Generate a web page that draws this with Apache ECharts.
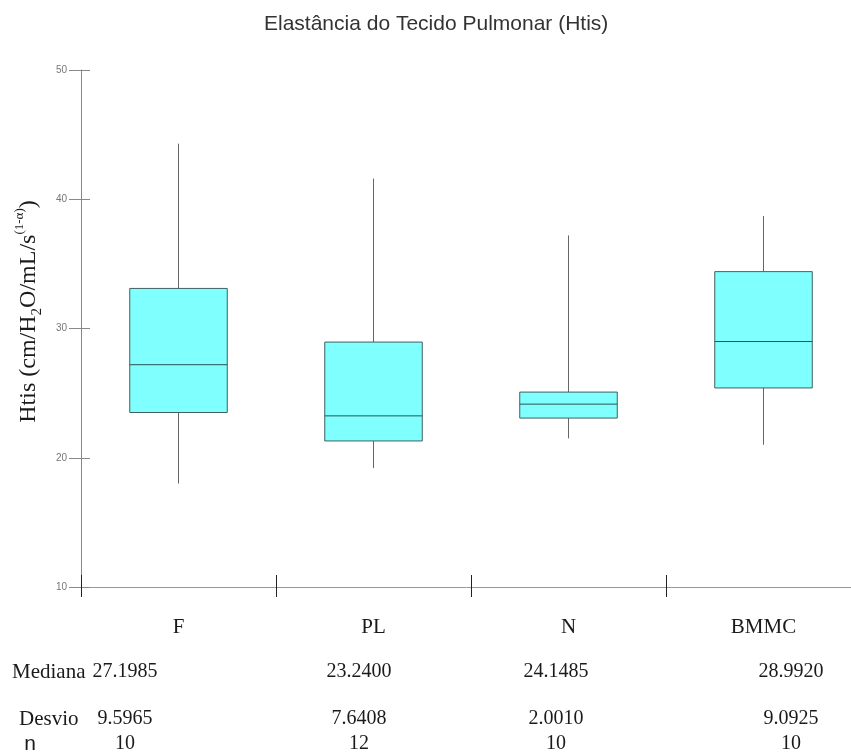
<!DOCTYPE html>
<html>
<head>
<meta charset="utf-8">
<script src="https://cdn.jsdelivr.net/npm/echarts@6/dist/echarts.min.js"></script>
<style>
  html, body { margin: 0; padding: 0; background: #fff; }
  #chart { width: 851px; height: 756px; }
</style>
</head>
<body>
<div id="chart"></div>
<script>
// categorias e valores
var categories = ['F', 'PL', 'N', 'BMMC'];
var mins    = [18.0, 19.2, 21.5, 21.0];
var q1s     = [23.5, 21.3, 23.07, 25.4];
var medians = [27.1985, 23.24, 24.1485, 28.992];
var q3s     = [33.1, 28.95, 25.08, 34.4];
var maxs    = [44.3, 41.6, 37.2, 38.7];
var yTicks  = [10, 20, 30, 40, 50];

// tabela abaixo do gráfico
var medianaLabels = ['27.1985', '23.2400', '24.1485', '28.9920'];
var desvioLabels  = ['9.5965', '7.6408', '2.0010', '9.0925'];
var nLabels       = ['10', '12', '10', '10'];

var chart = echarts.init(document.getElementById('chart'));

var boxData = categories.map(function (c, i) {
  return [i, mins[i], q1s[i], medians[i], q3s[i], maxs[i]];
});

var colX = [125, 359, 556, 791];
var serif = '"Liberation Serif", "Times New Roman", serif';
var graphics = [];
function addText(text, x, y, font, align) {
  graphics.push({
    type: 'text',
    x: x, y: y,
    style: {
      text: text, font: font, fill: '#1a1a1a',
      textAlign: align || 'center', textVerticalAlign: 'middle'
    }
  });
}
addText('Mediana', 12, 672, '21px ' + serif, 'left');
addText('Desvio', 19, 719, '21px ' + serif, 'left');
addText('n', 30, 744, '21px "Liberation Sans", Arial, sans-serif', 'center');
for (var i = 0; i < categories.length; i++) {
  addText(medianaLabels[i], colX[i], 672, '20px ' + serif);
  addText(desvioLabels[i], colX[i], 719, '20px ' + serif);
  addText(nLabels[i], colX[i], 744, '20px ' + serif);
}

chart.setOption({
  animation: false,
  title: {
    text: 'Elastância do Tecido Pulmonar (Htis)',
    left: 259,
    top: 9,
    textStyle: { fontFamily: 'Arial, "Liberation Sans"', fontSize: 21, fontWeight: 'normal', color: '#333' }
  },
  grid: { left: 81, top: 70, width: 780, bottom: 169, outerBoundsMode: 'none', containLabel: false },
  xAxis: [{
    type: 'category',
    data: categories,
    boundaryGap: true,
    axisLine: { lineStyle: { color: '#999' } },
    axisTick: { show: true, interval: 0, length: 10, lineStyle: { color: '#222' } },
    axisLabel: { margin: 30, fontFamily: serif, fontSize: 21, color: '#1a1a1a' },
    splitLine: { show: false }
  }, {
    type: 'category',
    data: categories,
    position: 'bottom',
    gridIndex: 0,
    boundaryGap: true,
    axisLine: { show: false },
    axisTick: { show: true, interval: 0, inside: true, length: 12, lineStyle: { color: '#222' } },
    axisLabel: { show: false }
  }],
  yAxis: [{
    type: 'value',
    min: yTicks[0],
    max: yTicks[yTicks.length - 1],
    interval: 10,
    axisLine: { show: true, lineStyle: { color: '#888' } },
    axisTick: { show: true, length: 12, lineStyle: { color: '#888' } },
    axisLabel: { margin: 14, fontFamily: 'Arial', fontSize: 10, color: '#777' },
    splitLine: { show: false },
    name: '{a|Htis (cm/H}{sub|2}{a|O/mL/s}{sup|(1-α)}{a|)}',
    nameLocation: 'middle',
    nameGap: 34,
    nameTextStyle: {
      padding: [0, 0, 0, 34],
      rich: {
        a: { fontFamily: serif, fontSize: 24, color: '#1a1a1a', lineHeight: 32 },
        sub: { fontFamily: serif, fontSize: 15, color: '#1a1a1a', verticalAlign: 'bottom', lineHeight: 20 },
        sup: { fontFamily: serif, fontSize: 13, color: '#1a1a1a', verticalAlign: 'top', lineHeight: 15 }
      }
    }
  }, {
    type: 'value',
    position: 'left',
    min: yTicks[0],
    max: yTicks[yTicks.length - 1],
    interval: 10,
    axisLine: { show: false },
    axisTick: { show: true, inside: true, length: 9, lineStyle: { color: '#888' } },
    axisLabel: { show: false },
    splitLine: { show: false }
  }],
  series: [{
    type: 'custom',
    data: boxData,
    encode: { x: 0, y: [1, 2, 3, 4, 5] },
    renderItem: function (params, api) {
      var idx = api.value(0);
      var pMin = api.coord([idx, api.value(1)]);
      var pQ1 = api.coord([idx, api.value(2)]);
      var pMed = api.coord([idx, api.value(3)]);
      var pQ3 = api.coord([idx, api.value(4)]);
      var pMax = api.coord([idx, api.value(5)]);
      var half = api.size([1, 0])[0] * 0.25;
      var x = pMed[0];
      return {
        type: 'group',
        children: [
          { type: 'line', shape: { x1: x, y1: pMax[1], x2: x, y2: pQ3[1] }, style: { stroke: '#666', lineWidth: 1 } },
          { type: 'line', shape: { x1: x, y1: pQ1[1], x2: x, y2: pMin[1] }, style: { stroke: '#666', lineWidth: 1 } },
          { type: 'rect', shape: { x: x - half, y: pQ3[1], width: half * 2, height: pQ1[1] - pQ3[1] },
            style: { fill: '#80ffff', stroke: '#3f6060', lineWidth: 1 } },
          { type: 'line', shape: { x1: x - half, y1: pMed[1], x2: x + half, y2: pMed[1] }, style: { stroke: '#2f5050', lineWidth: 1 } }
        ]
      };
    }
  }],
  graphic: graphics
});
</script>
</body>
</html>
